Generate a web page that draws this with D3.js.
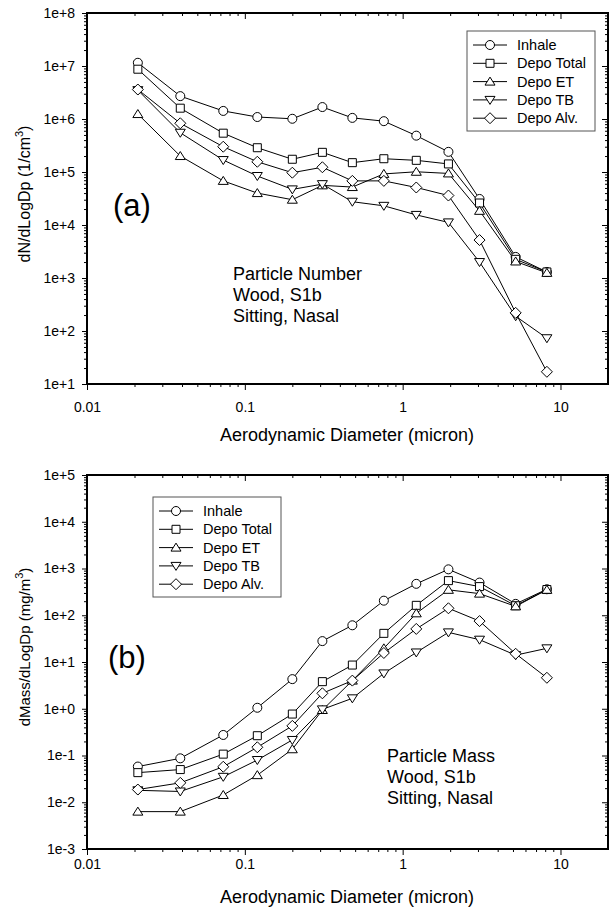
<!DOCTYPE html>
<html>
<head>
<meta charset="utf-8">
<script src="https://cdn.jsdelivr.net/npm/d3@7"></script>
<style>
  body { margin: 0; background: #fff; }
  svg { font-family: Arial, "Liberation Sans", sans-serif; }
  .tick text { font-size: 14px; fill: #000; }
  .tick line { stroke: #000; }
</style>
</head>
<body>
<div id="chart"></div>
<script>
// Particle diameters (micron), shared by both panels
var diameters = [0.021, 0.039, 0.073, 0.12, 0.20, 0.31, 0.48, 0.76, 1.22, 1.95, 3.07, 5.2, 8.2];

var seriesNames = ["Inhale", "Depo Total", "Depo ET", "Depo TB", "Depo Alv."];
var seriesSymbols = ["circle", "square", "triangleUp", "triangleDown", "diamond"];

// (a) particle number, 1/cm3
var numInhale    = [1.15e7, 2.7e6, 1.42e6, 1.09e6, 1.01e6, 1.68e6, 1.05e6, 9.1e5, 4.85e5, 2.4e5, 3.1e4, 2.5e3, 1.3e3];
var numDepoTotal = [8.7e6, 1.6e6, 5.4e5, 2.87e5, 1.74e5, 2.35e5, 1.5e5, 1.78e5, 1.66e5, 1.42e5, 2.6e4, 2.25e3, 1.3e3];
var numDepoET    = [1.24e6, 2.0e5, 6.8e4, 4.0e4, 3.0e4, 5.6e4, 5.2e4, 9.2e4, 1.01e5, 9.4e4, 1.85e4, 2.05e3, 1.25e3];
var numDepoTB    = [3.5e6, 5.5e5, 1.68e5, 8.4e4, 4.7e4, 5.9e4, 2.75e4, 2.3e4, 1.55e4, 1.12e4, 2.0e3, 190, 73];
var numDepoAlv   = [3.6e6, 8.3e5, 3.0e5, 1.56e5, 9.7e4, 1.23e5, 6.8e4, 6.8e4, 5.1e4, 3.6e4, 5.2e3, 220, 17];

// (b) particle mass, mg/m3
var massInhale    = [0.058, 0.087, 0.275, 1.05, 4.3, 28, 61, 205, 470, 960, 500, 175, 360];
var massDepoTotal = [0.043, 0.05, 0.107, 0.265, 0.77, 3.8, 8.6, 41, 163, 550, 410, 160, 355];
var massDepoET    = [0.0063, 0.0063, 0.0143, 0.038, 0.136, 0.94, 4.0, 19.6, 110, 350, 290, 155, 350];
var massDepoTB    = [0.018, 0.017, 0.035, 0.08, 0.215, 0.97, 1.67, 5.7, 16, 43, 30, 14, 19.6];
var massDepoAlv   = [0.0187, 0.026, 0.0575, 0.15, 0.43, 2.14, 4.0, 15.6, 51, 141, 75, 15, 4.6];

var xTicks = [0.01, 0.1, 1, 10];
var xTickLabels = ["0.01", "0.1", "1", "10"];
var numYTicks = [1e1, 1e2, 1e3, 1e4, 1e5, 1e6, 1e7, 1e8];
var massYTicks = [1e-3, 1e-2, 1e-1, 1e0, 1e1, 1e2, 1e3, 1e4, 1e5];

var svgWidth = 613;
var svgHeight = 909;

var svg = d3.select("#chart")
  .append("svg")
  .attr("width", svgWidth)
  .attr("height", svgHeight);

// minor log ticks (2..9 of each decade) inside a domain
function minorTicks(lo, hi) {
  var out = [];
  for (var e = Math.floor(Math.log10(lo)); e < Math.ceil(Math.log10(hi)); e++) {
    for (var k = 2; k <= 9; k++) {
      var v = k * Math.pow(10, e);
      if (v > lo && v < hi) out.push(v);
    }
  }
  return out;
}

function expLabel(v) {
  var n = Math.round(Math.log10(v));
  return "1e" + (n < 0 ? "-" : "+") + Math.abs(n);
}

function symbolPath(type) {
  if (type === "circle") return "M4.5,0A4.5,4.5 0 1,1 -4.5,0A4.5,4.5 0 1,1 4.5,0Z";
  if (type === "square") return "M-4,-4H4V4H-4Z";
  if (type === "triangleUp") return "M0,-4.5L5,3.5H-5Z";
  if (type === "triangleDown") return "M0,4.5L5,-3.5H-5Z";
  return "M0,-5.5L5.5,0L0,5.5L-5.5,0Z";
}

function drawPanel(p) {
  var x = d3.scaleLog().domain([0.01, 20]).range([87, 608]);
  var y = d3.scaleLog().domain(p.yDomain).range([p.bottom, p.top]);

  var g = svg.append("g");

  // bottom axis (outward ticks)
  g.append("g")
    .attr("transform", `translate(0, ${p.bottom})`)
    .call(d3.axisBottom(x).tickValues(minorTicks(0.01, 20)).tickSize(3).tickFormat(""))
    .call(a => a.select(".domain").remove());
  g.append("g")
    .attr("transform", `translate(0, ${p.bottom})`)
    .call(d3.axisBottom(x).tickValues(xTicks).tickSize(6).tickPadding(p.xPad)
      .tickFormat((d, i) => xTickLabels[i]))
    .call(a => a.select(".domain").remove());

  // top axis mirror (inward ticks)
  g.append("g")
    .attr("transform", `translate(0, ${p.top})`)
    .call(d3.axisBottom(x).tickValues(minorTicks(0.01, 20)).tickSize(3).tickFormat(""))
    .call(a => a.select(".domain").remove());
  g.append("g")
    .attr("transform", `translate(0, ${p.top})`)
    .call(d3.axisBottom(x).tickValues(xTicks).tickSize(6).tickFormat(""))
    .call(a => a.select(".domain").remove());

  // left axis (outward ticks)
  g.append("g")
    .attr("transform", "translate(87, 0)")
    .call(d3.axisLeft(y).tickValues(minorTicks(p.yDomain[0], p.yDomain[1])).tickSize(3).tickFormat(""))
    .call(a => a.select(".domain").remove());
  g.append("g")
    .attr("transform", "translate(87, 0)")
    .call(d3.axisLeft(y).tickValues(p.yTicks).tickSize(5).tickPadding(7).tickFormat(expLabel))
    .call(a => a.select(".domain").remove());

  // right axis mirror (inward ticks)
  g.append("g")
    .attr("transform", "translate(608, 0)")
    .call(d3.axisLeft(y).tickValues(minorTicks(p.yDomain[0], p.yDomain[1])).tickSize(3).tickFormat(""))
    .call(a => a.select(".domain").remove());
  g.append("g")
    .attr("transform", "translate(608, 0)")
    .call(d3.axisLeft(y).tickValues(p.yTicks).tickSize(6).tickFormat(""))
    .call(a => a.select(".domain").remove());

  // frame
  g.append("rect")
    .attr("x", 87)
    .attr("y", p.top)
    .attr("width", 608 - 87)
    .attr("height", p.bottom - p.top)
    .attr("fill", "none")
    .attr("stroke", "#000")
    .attr("stroke-width", 2);

  var line = d3.line()
    .x((d, i) => x(diameters[i]))
    .y(d => y(d));

  p.series.forEach(function(values, s) {
    g.append("path")
      .attr("d", line(values))
      .attr("fill", "none")
      .attr("stroke", "#000")
      .attr("stroke-width", 1);
  });
  p.series.forEach(function(values, s) {
    g.selectAll(null)
      .data(values)
      .enter()
      .append("path")
      .attr("transform", (d, i) => `translate(${x(diameters[i])}, ${y(d)})`)
      .attr("d", symbolPath(seriesSymbols[s]))
      .attr("fill", "#fff")
      .attr("stroke", "#000")
      .attr("stroke-width", 1);
  });

  // legend
  var lg = g.append("g");
  lg.append("rect")
    .attr("x", p.legend.x)
    .attr("y", p.legend.y)
    .attr("width", 128)
    .attr("height", 100)
    .attr("fill", "#fff")
    .attr("stroke", "#555")
    .attr("stroke-width", 1);
  seriesNames.forEach(function(name, s) {
    var ly = p.legend.y + 14 + s * 18.3;
    lg.append("line")
      .attr("x1", p.legend.x + 6)
      .attr("x2", p.legend.x + 40)
      .attr("y1", ly)
      .attr("y2", ly)
      .attr("stroke", "#000");
    lg.append("path")
      .attr("transform", `translate(${p.legend.x + 23}, ${ly})`)
      .attr("d", symbolPath(seriesSymbols[s]))
      .attr("fill", "#fff")
      .attr("stroke", "#000");
    lg.append("text")
      .attr("x", p.legend.x + 50)
      .attr("y", ly + 5)
      .style("font-size", "14.5px")
      .text(name);
  });

  // panel letter
  g.append("text")
    .attr("x", p.letter.x)
    .attr("y", p.letter.y)
    .style("font-size", "31px")
    .text(p.letter.text);

  // annotation
  p.note.lines.forEach(function(t, i) {
    g.append("text")
      .attr("x", p.note.x)
      .attr("y", p.note.y + i * 21)
      .style("font-size", "18px")
      .text(t);
  });

  // x axis title
  g.append("text")
    .attr("x", 347)
    .attr("y", p.xTitleY)
    .attr("text-anchor", "middle")
    .style("font-size", "18px")
    .text("Aerodynamic Diameter (micron)");

  // y axis title
  var yt = g.append("text")
    .attr("transform", `translate(30, ${p.yTitleMid}) rotate(-90)`)
    .attr("text-anchor", "middle")
    .style("font-size", p.yTitleSize);
  yt.append("tspan").text(p.yTitle);
  yt.append("tspan").attr("dy", -7).style("font-size", "11px").text("3");
  yt.append("tspan").attr("dy", 7).text(")");
}

drawPanel({
  top: 13, bottom: 384,
  yDomain: [1e1, 1e8], yTicks: numYTicks,
  series: [numInhale, numDepoTotal, numDepoET, numDepoTB, numDepoAlv],
  xPad: 12, xTitleY: 441,
  legend: {x: 467, y: 31},
  letter: {x: 113, y: 216, text: "(a)"},
  note: {x: 233, y: 280, lines: ["Particle Number", "Wood, S1b", "Sitting, Nasal"]},
  yTitle: "dN/dLogDp (1/cm", yTitleMid: 194, yTitleSize: "16px"
});

drawPanel({
  top: 475, bottom: 849,
  yDomain: [1e-3, 1e5], yTicks: massYTicks,
  series: [massInhale, massDepoTotal, massDepoET, massDepoTB, massDepoAlv],
  xPad: 4, xTitleY: 903,
  legend: {x: 153, y: 497},
  letter: {x: 108, y: 668, text: "(b)"},
  note: {x: 387, y: 762, lines: ["Particle Mass", "Wood, S1b", "Sitting, Nasal"]},
  yTitle: "dMass/dLogDp (mg/m", yTitleMid: 647, yTitleSize: "15px"
});
</script>
</body>
</html>
